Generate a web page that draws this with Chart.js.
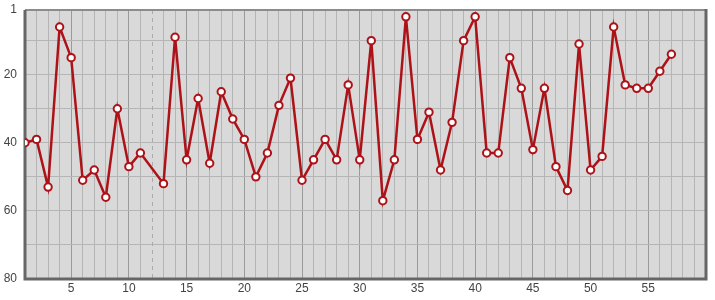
<!DOCTYPE html>
<html>
<head>
<meta charset="utf-8">
<script src="https://cdn.jsdelivr.net/npm/chart.js@4/dist/chart.umd.min.js"></script>
<style>
    html, body { margin: 0; padding: 0; background: #fff; }
    #wrap { width: 715px; height: 300px; }
</style>
</head>
<body>
<div id="wrap"><canvas id="rank-chart" width="715" height="300"></canvas></div>
<script>
// week index and rank (week 12 has no entry)
const weeks = [1, 2, 3, 4, 5, 6, 7, 8, 9, 10, 11, 13, 14, 15, 16, 17, 18, 19, 20,
    21, 22, 23, 24, 25, 26, 27, 28, 29, 30, 31, 32, 33, 34, 35, 36, 37, 38, 39, 40,
    41, 42, 43, 44, 45, 46, 47, 48, 49, 50, 51, 52, 53, 54, 55, 56, 57];
const ranks = [40, 39, 53, 6, 15, 51, 48, 56, 30, 47, 43, 52, 9, 45, 27, 46, 25, 33, 39,
    50, 43, 29, 21, 51, 45, 39, 45, 23, 45, 10, 57, 45, 3, 39, 31, 48, 34, 10, 3,
    43, 43, 15, 24, 42, 24, 47, 54, 11, 48, 44, 6, 23, 24, 24, 19, 14];
const yTicks = [1, 10, 20, 30, 40, 50, 60, 70, 80];
const yTickLabels = [1, 20, 40, 60, 80];
const xTickLabels = [5, 10, 15, 20, 25, 30, 35, 40, 45, 50, 55];
const markerWeek = 12;

const FONT = { family: "'Liberation Sans', Arial, sans-serif", size: 12 };

const frame = {
    id: "frame",
    beforeDraw(chart) {
        const { ctx, chartArea: a } = chart;
        ctx.save();
        ctx.fillStyle = "#d9d9d9";
        ctx.fillRect(a.left, a.top, a.right - a.left, a.bottom - a.top);
        ctx.restore();
    },
    beforeDatasetsDraw(chart) {
        const { ctx, chartArea: a } = chart;
        const x = Math.round(chart.scales.x.getPixelForValue(markerWeek)) + 0.5;
        ctx.save();
        ctx.strokeStyle = "#ababab";
        ctx.lineWidth = 1;
        ctx.setLineDash([4, 4]);
        ctx.beginPath();
        ctx.moveTo(x, a.top);
        ctx.lineTo(x, a.bottom);
        ctx.stroke();
        ctx.setLineDash([]);
        // top edge lighter, other edges dark
        ctx.strokeStyle = "#8c8c8c";
        ctx.lineWidth = 2;
        ctx.beginPath();
        ctx.moveTo(a.left, a.top);
        ctx.lineTo(a.right, a.top);
        ctx.stroke();
        ctx.strokeStyle = "#666";
        ctx.lineWidth = 3;
        ctx.beginPath();
        ctx.moveTo(a.left, a.top);
        ctx.lineTo(a.left, a.bottom);
        ctx.lineTo(a.right, a.bottom);
        ctx.lineTo(a.right, a.top - 1);
        ctx.stroke();
        ctx.restore();
    },
};

new Chart(document.getElementById("rank-chart"), {
    type: "line",
    data: {
        datasets: [{
            data: weeks.map((w, i) => ({ x: w, y: ranks[i] })),
            borderColor: "#ad1218",
            borderWidth: 2.5,
            pointBackgroundColor: "#fff",
            pointBorderColor: "#ad1218",
            pointBorderWidth: 2,
            pointRadius: 3.7,
            tension: 0,
        }],
    },
    options: {
        responsive: false,
        animation: false,
        layout: { padding: { top: 10, right: 9, left: 0, bottom: 0 } },
        plugins: { legend: { display: false }, tooltip: { enabled: false } },
        scales: {
            x: {
                type: "linear",
                min: 1,
                max: 60,
                afterBuildTicks: (s) => {
                    const t = [];
                    for (let v = 1; v <= 60; v++) t.push({ value: v });
                    s.ticks = t;
                },
                afterFit: (s) => {
                    s.height = 21;
                    s.paddingLeft = 0;
                    s.paddingRight = 0;
                },
                ticks: {
                    autoSkip: false,
                    maxRotation: 0,
                    padding: 2,
                    color: "#444",
                    font: FONT,
                    callback: (v) => (xTickLabels.includes(v) ? String(v) : ""),
                },
                grid: {
                    drawTicks: false,
                    color: (c) => {
                        const v = c.tick && c.tick.value;
                        if (v === markerWeek || v === 1 || v === 60) return "rgba(0,0,0,0)";
                        return v % 5 === 0 ? "#9a9a9a" : "#b5b5b5";
                    },
                },
                border: { display: false },
            },
            y: {
                type: "linear",
                reverse: true,
                min: 1,
                max: 80,
                afterBuildTicks: (s) => { s.ticks = yTicks.map((v) => ({ value: v })); },
                afterFit: (s) => {
                    s.width = 25;
                    s.paddingTop = 0;
                    s.paddingBottom = 0;
                },
                ticks: {
                    autoSkip: false,
                    padding: 8,
                    color: "#444",
                    font: FONT,
                    callback: (v) => (yTickLabels.includes(v) ? String(v) : ""),
                },
                grid: {
                    drawTicks: false,
                    color: (c) => {
                        const v = c.tick && c.tick.value;
                        return v === 1 || v === 80 ? "rgba(0,0,0,0)" : "#b5b5b5";
                    },
                },
                border: { display: false },
            },
        },
    },
    plugins: [frame],
});
</script>
</body>
</html>
